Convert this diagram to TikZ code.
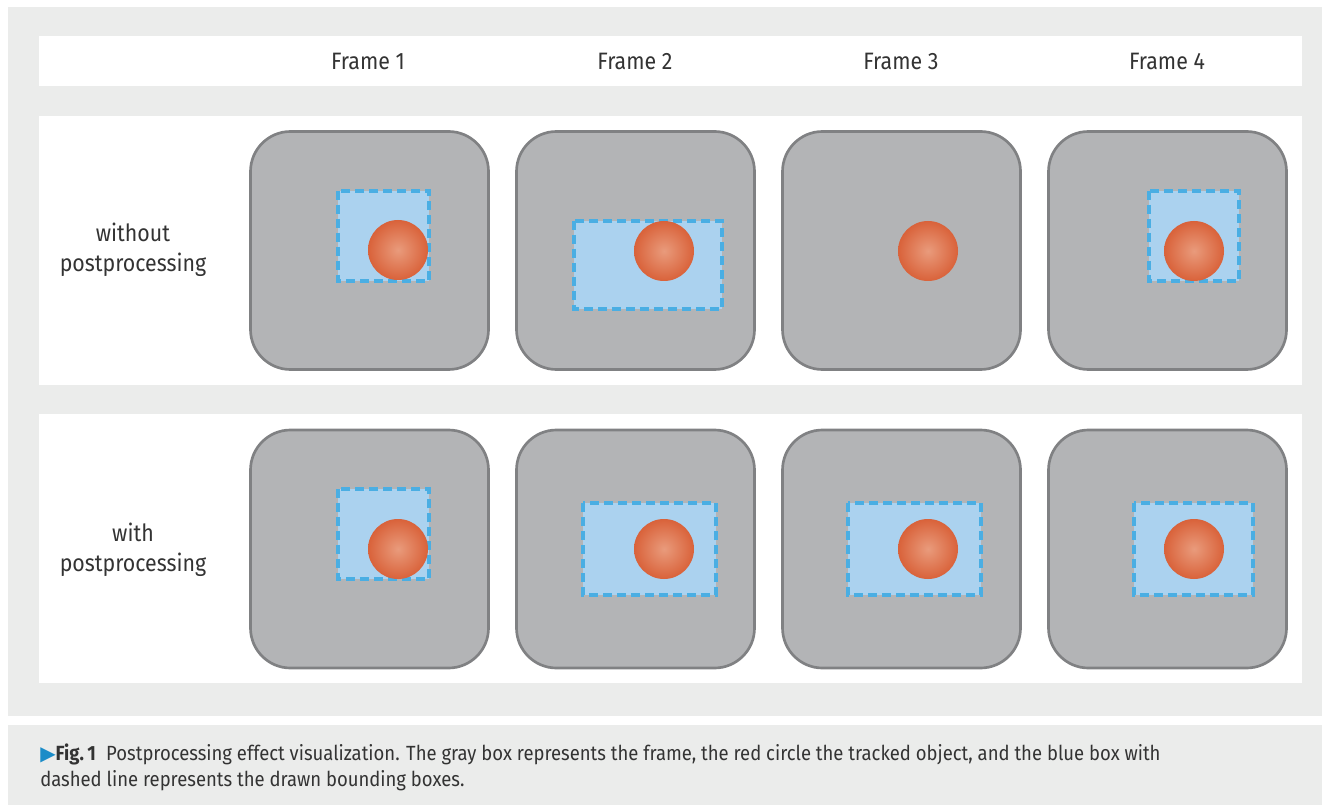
\documentclass[tikz,border=0pt]{standalone}
\usepackage{fontspec}
\setmainfont{Fira Sans}[FakeStretch=0.9]
\definecolor{panel}{HTML}{EBECEB}
\definecolor{framefill}{HTML}{B3B4B6}
\definecolor{frameline}{HTML}{808183}
\definecolor{boxfill}{HTML}{ABD2EF}
\definecolor{boxline}{HTML}{4AAEE3}
\definecolor{ballin}{HTML}{E99B7C}
\definecolor{ballout}{HTML}{D9623A}
\definecolor{txt}{HTML}{333333}
\definecolor{tri}{HTML}{1A8CC8}
\begin{document}
\begin{tikzpicture}[x=0.75pt,y=-0.75pt,
  frm/.style={draw=frameline,fill=framefill,line width=2pt,rounded corners=30pt,minimum size=178.5pt,inner sep=0pt},
  bbox/.style={draw=boxline,fill=boxfill,line width=2.3pt,dash pattern=on 6.5pt off 4pt,inner sep=0pt},
  ball/.style={circle,inner sep=0pt,minimum size=45pt,inner color=ballin,outer color=ballout},
  lab/.style={text=txt,font=\fontsize{17.8}{22.5}\selectfont,align=center},
  captext/.style={text=txt,font=\fontsize{15.4}{19.5}\selectfont,align=left,anchor=north west,inner sep=0pt}]
\useasboundingbox (0,0) rectangle (1330,805);
\fill[white] (0,0) rectangle (1330,805);
\fill[panel] (8,7) rectangle (1322,716);
\fill[panel] (8,725) rectangle (1322,805);
\fill[white] (39,36) rectangle (1302,86);
\fill[white] (39,116) rectangle (1302,385);
\fill[white] (39,414) rectangle (1302,683);
% header
\node[lab] (h1) at (368,61) {Frame 1};
\node[lab] (h2) at (635,61) {Frame 2};
\node[lab] (h3) at (901,61) {Frame 3};
\node[lab] (h4) at (1167,61) {Frame 4};
\node[lab] (r1) at (133,249.5) {without\\postprocessing};
\node[lab] (r2) at (133,549.5) {with\\postprocessing};
% frames row 1
\node[frm] (f11) at (369.5,250.5) {};
\node[frm] (f12) at (635.5,250.5) {};
\node[frm] (f13) at (901.5,250.5) {};
\node[frm] (f14) at (1167.5,250.5) {};
% frames row 2
\node[frm] (f21) at (369.5,549) {};
\node[frm] (f22) at (635.5,549) {};
\node[frm] (f23) at (901.5,549) {};
\node[frm] (f24) at (1167.5,549) {};
% boxes row 1
\draw[bbox] (338,191) rectangle (429,281);
\draw[bbox] (574,221) rectangle (722,309);
\draw[bbox] (1149,191) rectangle (1239,281);
% boxes row 2
\draw[bbox] (338,489) rectangle (429,579);
\draw[bbox] (583,503) rectangle (716,595);
\draw[bbox] (848,503) rectangle (981,595);
\draw[bbox] (1134,503) rectangle (1253,595);
% balls
\node[ball] (b11) at (398,250) {};
\node[ball] (b12) at (664,251) {};
\node[ball] (b13) at (928,251) {};
\node[ball] (b14) at (1194,251) {};
\node[ball] (b21) at (398,549) {};
\node[ball] (b22) at (664,549) {};
\node[ball] (b23) at (928,549) {};
\node[ball] (b24) at (1194,549) {};
% caption
\node[captext] (c) at (40,744) {{\color{tri}\fontspec{DejaVu Sans}\fontsize{15}{10}\selectfont ▶}\textbf{Fig.\,1}\enspace Postprocessing effect visualization. The gray box represents the frame, the red circle the tracked object, and the blue box with\\dashed line represents the drawn bounding boxes.};
\end{tikzpicture}
\end{document}
